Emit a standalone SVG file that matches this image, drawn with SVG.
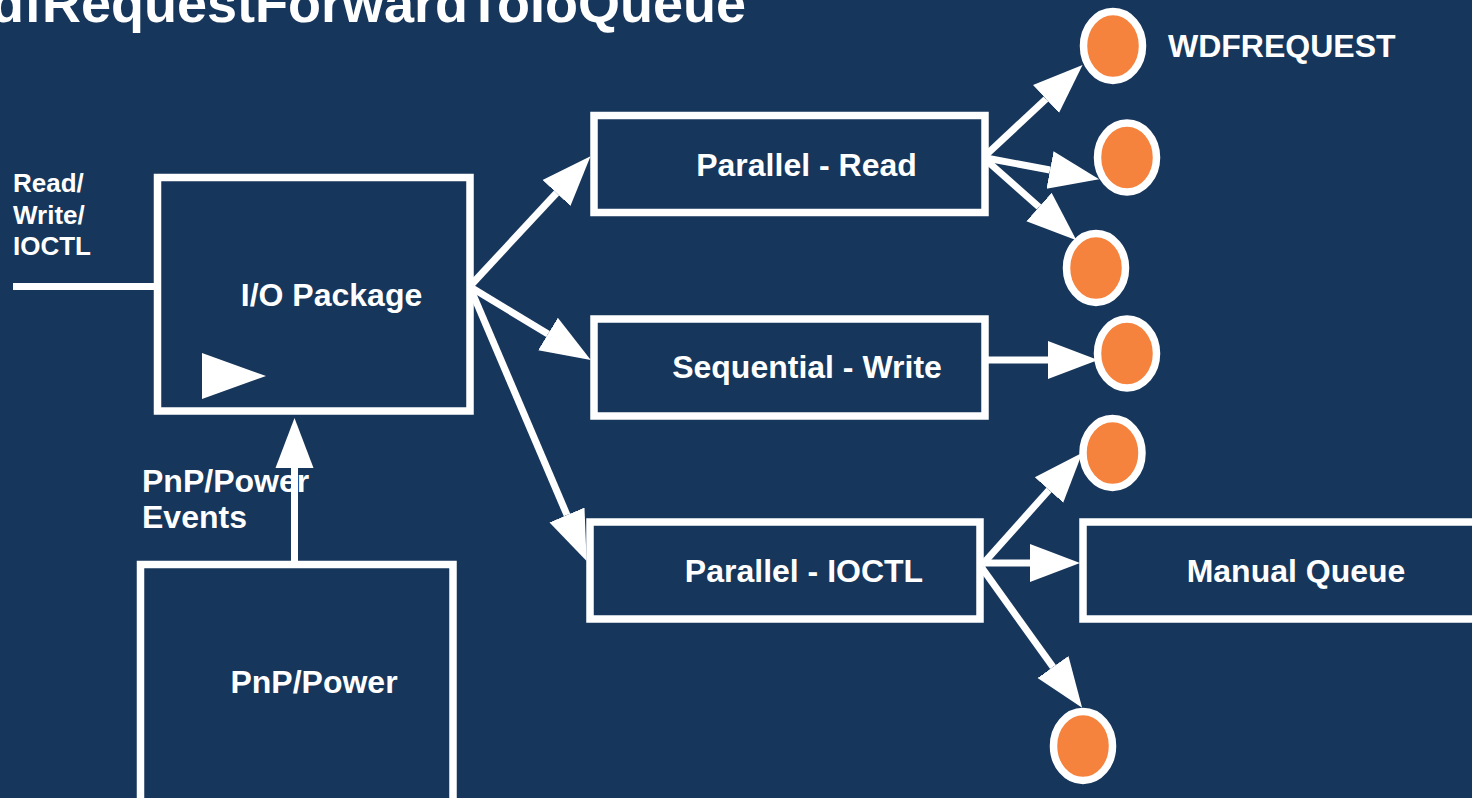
<svg xmlns="http://www.w3.org/2000/svg" width="1472" height="798" viewBox="0 0 1472 798">
  <defs>
    <style>
      .box { fill: none; stroke: #ffffff; stroke-width: 7.5; }
      .req { fill: #f5823d; stroke: #ffffff; stroke-width: 7.5; }
      .lbl { font-family: "Liberation Sans", Arial, sans-serif; font-weight: bold; font-size: 32px; fill: #ffffff; }
      .mid { text-anchor: middle; }
      .small { font-size: 26px; }
      .title { font-family: "Liberation Sans", Arial, sans-serif; font-weight: bold; font-size: 54px; fill: #ffffff; }
      .conn line { stroke: #ffffff; stroke-width: 7; stroke-linecap: butt; }
      .conn .head { marker-end: url(#arrow); }
    </style>
    <marker id="arrow" markerUnits="userSpaceOnUse" markerWidth="52" markerHeight="42" viewBox="0 -21 52 42" refX="0" refY="0" orient="auto">
      <path d="M0,-19 L50,0 L0,19 Z" fill="#ffffff"/>
    </marker>
  </defs>

  <!-- background -->
  <rect x="0" y="0" width="1472" height="798" fill="#16365b"/>

  <!-- heading, runs off the left edge -->
  <text class="title" x="-9" y="22">dfRequestForwardToIoQueue</text>

  <!-- connectors -->
  <g id="connectors" class="conn">
    <line x1="13" y1="286.5" x2="157" y2="286.5"/>
    <line class="head" x1="294.5" y1="561" x2="294.5" y2="468"/>
    <line class="head" x1="472" y1="284" x2="556.5" y2="193"/>
    <line class="head" x1="472" y1="288" x2="548" y2="334"/>
    <line class="head" x1="472" y1="292" x2="567" y2="515"/>
    <line class="head" x1="986" y1="155" x2="1046" y2="99"/>
    <line class="head" x1="986" y1="158" x2="1050" y2="170"/>
    <line class="head" x1="986" y1="160" x2="1039" y2="207"/>
    <line class="head" x1="986" y1="360" x2="1048" y2="360"/>
    <line class="head" x1="982" y1="565" x2="1049" y2="490"/>
    <line class="head" x1="982" y1="563" x2="1030" y2="563"/>
    <line class="head" x1="982" y1="568" x2="1053" y2="667"/>
  </g>

  <!-- inbound request label -->
  <g id="inbound-label">
    <text class="lbl small" x="13" y="192">Read/</text>
    <text class="lbl small" x="13" y="224">Write/</text>
    <text class="lbl small" x="13" y="255">IOCTL</text>
  </g>

  <g id="io-package">
    <rect class="box" x="157.5" y="177.5" width="312.5" height="233.5"/>
    <text class="lbl mid" x="331.5" y="306">I/O Package</text>
    <polygon points="202,353 266,376 202,399" fill="#ffffff"/>
  </g>

  <g id="pnp-events-label">
    <text class="lbl" x="142" y="492">PnP/Power</text>
    <text class="lbl" x="142" y="528">Events</text>
  </g>

  <g id="pnp-power">
    <rect class="box" x="140.5" y="564.5" width="312.5" height="260"/>
    <text class="lbl mid" x="314" y="693">PnP/Power</text>
  </g>

  <g id="queue-read">
    <rect class="box" x="594" y="115.5" width="391" height="97"/>
    <text class="lbl mid" x="806.5" y="176">Parallel - Read</text>
  </g>

  <g id="queue-write">
    <rect class="box" x="594" y="319" width="391" height="97"/>
    <text class="lbl mid" x="807" y="378">Sequential - Write</text>
  </g>

  <g id="queue-ioctl">
    <rect class="box" x="590" y="522" width="390" height="97"/>
    <text class="lbl mid" x="804" y="582">Parallel - IOCTL</text>
  </g>

  <g id="queue-manual">
    <rect class="box" x="1083" y="522" width="420" height="97"/>
    <text class="lbl mid" x="1296" y="582">Manual Queue</text>
  </g>

  <!-- request objects -->
  <g id="req-1">
    <ellipse class="req" cx="1113" cy="46" rx="29.5" ry="34.5"/>
  </g>
  <g id="req-1-label">
    <text class="lbl" x="1168" y="57">WDFREQUEST</text>
  </g>
  <g id="req-2">
    <ellipse class="req" cx="1127" cy="157.5" rx="29.5" ry="34.5"/>
  </g>
  <g id="req-3">
    <ellipse class="req" cx="1096" cy="268" rx="29.5" ry="34.5"/>
  </g>
  <g id="req-4">
    <ellipse class="req" cx="1127" cy="353.5" rx="29.5" ry="34.5"/>
  </g>
  <g id="req-5">
    <ellipse class="req" cx="1112.5" cy="453" rx="29.5" ry="34.5"/>
  </g>
  <g id="req-6">
    <ellipse class="req" cx="1083" cy="746" rx="29.5" ry="34.5"/>
  </g>
</svg>
